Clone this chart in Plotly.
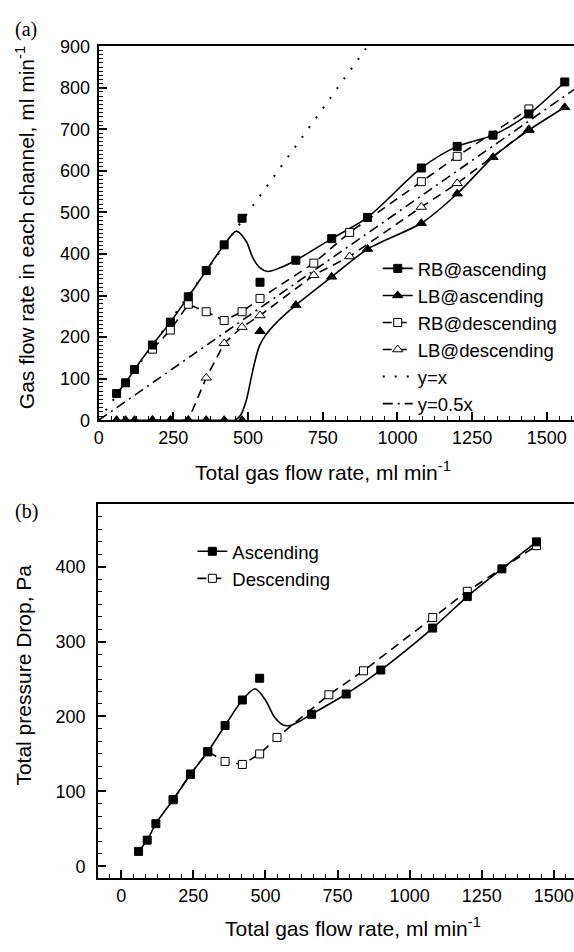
import plotly.graph_objects as go

W, H = 574, 952

# ---------------- panel (a): gas flow rate in each channel ----------------
# ascending sweep
asc_total = [60, 90, 120, 180, 240, 300, 360, 420, 480, 540, 660, 780, 900, 1080, 1200, 1320, 1440, 1560]
rb_asc = [64, 90, 122, 181, 236, 297, 360, 422, 486, 332, 385, 437, 488, 607, 659, 686, 737, 814]
lb_asc = [0, 0, 0, 0, 0, 0, 0, 0, 0, 214, 277, 345, 412, 474, 545, 633, 698, 753]

# smoothed fit curves drawn through the ascending data
rb_asc_fit_x = [60, 90, 120, 180, 240, 300, 360, 420, 461, 494, 516, 538, 566, 605, 660, 780, 900, 1080, 1200, 1320, 1440, 1560]
rb_asc_fit_y = [64, 90, 122, 181, 236, 297, 360, 422, 455, 430, 391, 368, 358, 366, 385, 437, 488, 607, 659, 686, 737, 814]
lb_asc_fit_x = [60, 180, 300, 420, 455, 475, 495, 510, 522, 538, 560, 605, 660, 780, 900, 1080, 1200, 1320, 1440, 1560]
lb_asc_fit_y = [0, 0, 0, 0, 0, 12, 50, 100, 139, 179, 206, 242, 277, 345, 412, 474, 545, 633, 698, 753]

# descending sweep
desc_total = [180, 240, 300, 360, 420, 480, 540, 720, 840, 1080, 1200, 1440]
rb_desc = [171, 217, 279, 261, 240, 261, 293, 378, 452, 574, 635, 749]
lb_desc = [0, 0, 0, 102, 185, 224, 252, 349, 394, 513, 570, 700]

# reference lines
ref_unit_x = [0, 900]
ref_unit_y = [0, 900]
ref_half_x = [0, 1600]
ref_half_y = [0, 800]

# ---------------- panel (b): total pressure drop ----------------
dp_asc_total = [60, 90, 120, 180, 240, 300, 360, 420, 480, 660, 780, 900, 1080, 1200, 1320, 1440]
dp_asc = [20, 35, 57, 89, 123, 153, 188, 222, 251, 203, 230, 262, 318, 360, 397, 433]
dp_asc_fit_x = [60, 90, 120, 180, 240, 300, 360, 420, 464, 500, 530, 560, 585, 620, 660, 780, 900, 1080, 1200, 1320, 1440]
dp_asc_fit_y = [20, 35, 57, 89, 123, 153, 188, 222, 237, 222, 200, 189, 188, 194, 203, 230, 262, 318, 360, 397, 433]
dp_desc_total = [180, 240, 300, 360, 420, 480, 540, 720, 840, 1080, 1200, 1440]
dp_desc = [89, 123, 153, 140, 136, 150, 172, 229, 261, 332, 367, 428]

SANS = "Liberation Sans, Arial, sans-serif"
SERIF = "Liberation Serif, Times New Roman, serif"
LW = 1.6
DASH = "9px,6px"
DASHDOT = "10px,5px,2px,5px"
DOT = "2px,10px"

filled_sq = dict(symbol="square", size=8, color="black", line=dict(color="black", width=1))
open_sq = dict(symbol="square", size=8, color="white", line=dict(color="black", width=1))
filled_tri = dict(symbol="triangle-up", size=9, color="black", line=dict(color="black", width=1))
open_tri = dict(symbol="triangle-up", size=9, color="white", line=dict(color="black", width=1))

fig = go.Figure()

# --- panel (a) traces ---
fig.add_trace(go.Scatter(x=ref_unit_x, y=ref_unit_y, mode="lines", name="y=x",
                         line=dict(color="black", width=2, dash=DOT),
                         xaxis="x", yaxis="y", legend="legend", legendrank=5))
fig.add_trace(go.Scatter(x=ref_half_x, y=ref_half_y, mode="lines", name="y=0.5x",
                         line=dict(color="black", width=LW, dash=DASHDOT),
                         xaxis="x", yaxis="y", legend="legend", legendrank=6))
fig.add_trace(go.Scatter(x=rb_asc_fit_x, y=rb_asc_fit_y, mode="lines", showlegend=False,
                         line=dict(color="black", width=LW, shape="spline", smoothing=0.8),
                         xaxis="x", yaxis="y"))
fig.add_trace(go.Scatter(x=lb_asc_fit_x, y=lb_asc_fit_y, mode="lines", showlegend=False,
                         line=dict(color="black", width=LW, shape="spline", smoothing=0.6),
                         xaxis="x", yaxis="y"))
fig.add_trace(go.Scatter(x=desc_total, y=rb_desc, mode="lines+markers", name="RB@descending",
                         line=dict(color="black", width=LW, dash=DASH), marker=open_sq,
                         xaxis="x", yaxis="y", legend="legend", legendrank=3))
fig.add_trace(go.Scatter(x=desc_total, y=lb_desc, mode="lines+markers", name="LB@descending",
                         line=dict(color="black", width=LW, dash=DASH), marker=open_tri,
                         xaxis="x", yaxis="y", legend="legend", legendrank=4))
fig.add_trace(go.Scatter(x=asc_total, y=rb_asc, mode="markers", showlegend=False,
                         marker=filled_sq, xaxis="x", yaxis="y"))
fig.add_trace(go.Scatter(x=asc_total, y=lb_asc, mode="markers", showlegend=False,
                         marker=filled_tri, xaxis="x", yaxis="y"))
# legend keys for the ascending series (line + symbol)
fig.add_trace(go.Scatter(x=[None], y=[None], mode="lines+markers", name="RB@ascending",
                         line=dict(color="black", width=LW), marker=filled_sq,
                         xaxis="x", yaxis="y", legend="legend", legendrank=1))
fig.add_trace(go.Scatter(x=[None], y=[None], mode="lines+markers", name="LB@ascending",
                         line=dict(color="black", width=LW), marker=filled_tri,
                         xaxis="x", yaxis="y", legend="legend", legendrank=2))

# --- panel (b) traces ---
fig.add_trace(go.Scatter(x=dp_asc_fit_x, y=dp_asc_fit_y, mode="lines", showlegend=False,
                         line=dict(color="black", width=LW, shape="spline", smoothing=0.8),
                         xaxis="x2", yaxis="y2"))
fig.add_trace(go.Scatter(x=dp_desc_total, y=dp_desc, mode="lines+markers", name="Descending",
                         line=dict(color="black", width=LW, dash=DASH), marker=open_sq,
                         xaxis="x2", yaxis="y2", legend="legend2", legendrank=2))
fig.add_trace(go.Scatter(x=dp_asc_total, y=dp_asc, mode="markers", showlegend=False,
                         marker=filled_sq, xaxis="x2", yaxis="y2"))
fig.add_trace(go.Scatter(x=[None], y=[None], mode="lines+markers", name="Ascending",
                         line=dict(color="black", width=LW), marker=filled_sq,
                         xaxis="x2", yaxis="y2", legend="legend2", legendrank=1))


def px_x(p):
    return p / W


def px_y(p):
    return 1 - p / H


common_axis = dict(showgrid=False, zeroline=False, showline=True, linecolor="black",
                   linewidth=2, ticks="inside", tickcolor="black", tickwidth=1.5,
                   ticklen=8, tickfont=dict(family=SANS, size=18, color="black"))

fig.update_layout(
    width=W, height=H,
    margin=dict(l=0, r=0, t=0, b=0),
    paper_bgcolor="white", plot_bgcolor="white",
    font=dict(family=SANS, color="black"),
    xaxis=dict(domain=[px_x(94.5), 1], range=[0, 1591], anchor="y", tick0=0, dtick=250,
               mirror=True, minor=dict(dtick=250 / 6, ticks="inside", ticklen=4,
                                       tickcolor="black", tickwidth=1),
               **common_axis),
    yaxis=dict(domain=[px_y(419), px_y(37)], range=[0, 900], anchor="x", tick0=0, dtick=100,
               ticklabelstandoff=3,
               minor=dict(dtick=10, ticks="inside", ticklen=4, tickcolor="black", tickwidth=1),
               **common_axis),
    xaxis2=dict(domain=[px_x(94), 1], range=[-80, 1570], anchor="y2", tick0=0, dtick=250,
                mirror=True, minor=dict(dtick=250 / 6, ticks="inside", ticklen=4,
                                        tickcolor="black", tickwidth=1),
                **common_axis),
    yaxis2=dict(domain=[px_y(887), px_y(505)], range=[-16, 483], anchor="x2", tick0=0, dtick=100,
                ticklabelstandoff=7,
                minor=dict(dtick=100 / 6, ticks="inside", ticklen=4, tickcolor="black", tickwidth=1),
                **common_axis),
    legend=dict(x=px_x(376), y=px_y(245), xanchor="left", yanchor="top",
                bgcolor="rgba(0,0,0,0)", borderwidth=0,
                font=dict(family=SANS, size=18.5, color="black"), traceorder="normal"),
    legend2=dict(x=px_x(189), y=px_y(534), xanchor="left", yanchor="top",
                 bgcolor="rgba(0,0,0,0)", borderwidth=0,
                 font=dict(family=SANS, size=18.5, color="black"), traceorder="normal"),
    showlegend=True,
)

annots = [
    dict(text="(a)", x=px_x(8), y=px_y(20), xanchor="left", yanchor="middle",
         font=dict(family=SERIF, size=20)),
    dict(text="(b)", x=px_x(8), y=px_y(512), xanchor="left", yanchor="middle",
         font=dict(family=SERIF, size=20)),
    dict(text="Total gas flow rate, ml min<sup>-1</sup>", x=px_x(321), y=px_y(471),
         xanchor="center", yanchor="middle", font=dict(family=SANS, size=21)),
    dict(text="Total gas flow rate, ml min<sup>-1</sup>", x=px_x(351), y=px_y(937),
         xanchor="center", yanchor="middle", font=dict(family=SANS, size=21)),
    dict(text="Gas flow rate in each channel, ml min<sup>-1</sup>", x=px_x(21), y=px_y(222),
         xanchor="center", yanchor="middle", textangle=-90, font=dict(family=SANS, size=21)),
    dict(text="Total pressure Drop, Pa", x=px_x(19), y=px_y(679),
         xanchor="center", yanchor="middle", textangle=-90, font=dict(family=SANS, size=21)),
]
for a in annots:
    a.update(xref="paper", yref="paper", showarrow=False)
    a["font"]["color"] = "black"
fig.update_layout(annotations=annots)

fig.write_html("out.html")
